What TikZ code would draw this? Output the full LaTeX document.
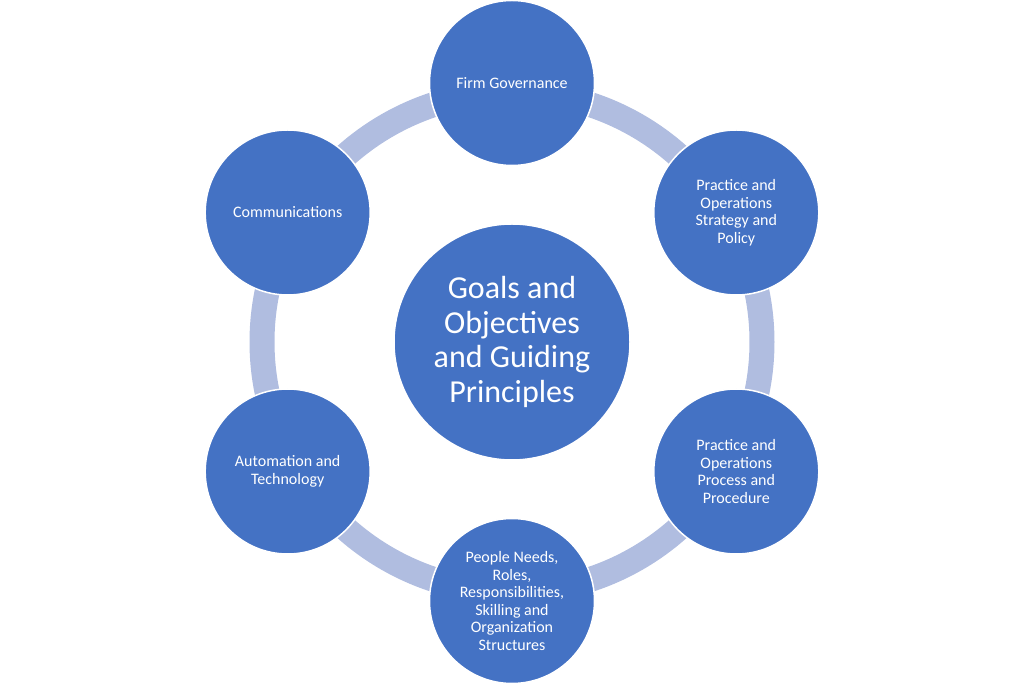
\documentclass[tikz,border=0pt]{standalone}
\usepackage{fontspec}
\setmainfont{Carlito}
\usetikzlibrary{backgrounds}
\definecolor{circblue}{RGB}{68,114,196}
\definecolor{ringblue}{RGB}{176,189,224}
\tikzset{
  topic/.style={circle, draw=white, line width=1.5pt, fill=circblue,
    minimum size=165pt, inner sep=0pt, text=white, align=center,
    font=\fontsize{16}{17.5}\selectfont},
  hub/.style={topic, minimum size=236pt, font=\fontsize{32}{34.7}\selectfont},
  ring/.style={ringblue, line width=25pt}
}
\begin{document}
\begin{tikzpicture}[x=1pt,y=1pt]
                % Fix the canvas
                \useasboundingbox (-512,-342) rectangle (512,342);

                % Draw the hub
                \node[hub] (goals) at (0,0) {Goals and\\Objectives\\and Guiding\\Principles};

                % Draw the six topics round the hub
                \node[topic] (gov) at (90:259) {Firm Governance};
                \node[topic] (strategy) at (30:259) {Practice and\\Operations\\Strategy and\\Policy};
                \node[topic] (process) at (-30:259) {Practice and\\Operations\\Process and\\Procedure};
                \node[topic] (people) at (-90:259) {People Needs,\\Roles,\\Responsibilities,\\Skilling and\\Organization\\Structures};
                \node[topic] (tech) at (210:259) {Automation and\\Technology};
                \node[topic] (comms) at (150:259) {Communications};

                % Draw the ring arcs behind the topics, one per pair of neighbours
                \begin{scope}[on background layer]
                \foreach \a in {90,30,-30,-90,-150,-210}
                  \draw[ring] (goals.center) ++(\a:250) arc[start angle=\a, end angle=\a-60, radius=250];
                \end{scope}

            \end{tikzpicture}
\end{document}
